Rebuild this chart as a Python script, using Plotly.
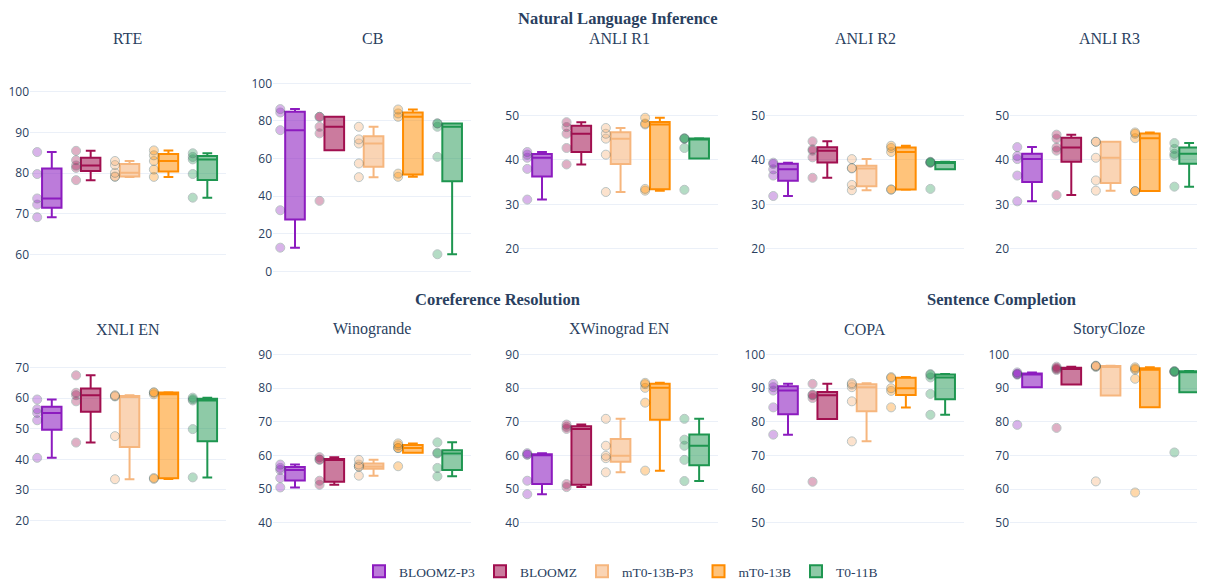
import plotly.graph_objects as go
from plotly.subplots import make_subplots

models = ["BLOOMZ-P3", "BLOOMZ", "mT0-13B-P3", "mT0-13B", "T0-11B"]

# one list of prompt scores per model, in the order of `models`
rte = [
    [69.2, 72.3, 73.8, 79.8, 85.2],
    [78.3, 81.3, 81.9, 83.2, 85.5],
    [79.1, 79.2, 80.1, 82.0, 83.0],
    [79.1, 80.9, 83.0, 84.4, 85.6],
    [74.0, 79.8, 83.4, 84.0, 84.9],
]
cb = [
    [12.6, 32.5, 75.1, 84.5, 86.3],
    [37.5, 73.4, 76.9, 82.2, 82.2],
    [50.1, 57.4, 68.0, 70.2, 76.9],
    [50.3, 52.0, 82.2, 84.0, 86.1],
    [9.1, 60.9, 76.9, 78.7, 78.7],
]
anli_r1 = [
    [31.1, 38.0, 40.5, 41.2, 41.8],
    [39.0, 42.7, 45.9, 47.4, 48.5],
    [32.8, 41.2, 44.8, 45.9, 47.2],
    [33.1, 33.5, 48.0, 48.2, 49.5],
    [33.3, 42.7, 44.8, 44.8, 44.9],
]
anli_r2 = [
    [31.9, 36.5, 37.9, 39.1, 39.4],
    [36.0, 40.6, 42.1, 42.4, 44.2],
    [33.2, 34.4, 38.1, 38.2, 40.2],
    [33.3, 33.4, 41.8, 42.7, 43.2],
    [33.5, 39.4, 39.4, 39.5, 39.6],
]
anli_r3 = [
    [30.7, 36.5, 40.2, 40.9, 42.9],
    [32.1, 42.1, 42.8, 44.8, 45.7],
    [33.1, 35.4, 40.5, 44.1, 44.1],
    [33.0, 33.0, 44.9, 45.9, 46.2],
    [34.0, 40.9, 41.4, 42.5, 43.8],
]
xnli_en = [
    [40.5, 52.8, 55.2, 56.4, 59.6],
    [45.5, 59.0, 61.0, 61.8, 67.5],
    [33.5, 47.6, 60.6, 60.7, 61.0],
    [33.6, 33.9, 61.3, 61.8, 62.0],
    [34.1, 49.9, 59.3, 59.7, 60.2],
]
winogrande = [
    [50.5, 53.3, 55.7, 56.3, 57.3],
    [51.3, 52.5, 58.7, 58.8, 59.5],
    [54.0, 56.7, 56.7, 57.3, 58.7],
    [56.8, 62.2, 62.2, 63.0, 63.6],
    [53.8, 56.3, 60.6, 60.8, 63.9],
]
xwinograd_en = [
    [48.5, 52.5, 60.2, 60.3, 60.7],
    [50.6, 51.5, 67.9, 68.5, 69.2],
    [55.0, 59.2, 59.9, 62.9, 70.9],
    [55.5, 75.7, 80.1, 81.2, 81.6],
    [52.4, 58.7, 62.9, 64.7, 70.9],
]
copa = [
    [76.2, 84.3, 89.3, 90.3, 91.3],
    [62.2, 87.1, 87.9, 88.1, 91.3],
    [74.2, 86.1, 90.3, 91.1, 91.5],
    [84.3, 89.2, 90.0, 93.0, 93.3],
    [82.1, 88.3, 93.2, 94.0, 94.2],
]
storycloze = [
    [79.1, 94.0, 94.2, 94.3, 94.7],
    [78.2, 95.4, 95.7, 96.0, 96.4],
    [62.3, 96.3, 96.5, 96.6, 96.7],
    [59.0, 92.8, 95.5, 95.8, 96.2],
    [70.9, 94.8, 94.9, 95.0, 95.1],
]

dataset_titles = ["RTE", "CB", "ANLI R1", "ANLI R2", "ANLI R3",
                  "XNLI EN", "Winogrande", "XWinograd EN", "COPA", "StoryCloze"]
dataset_values = [rte, cb, anli_r1, anli_r2, anli_r3,
                  xnli_en, winogrande, xwinograd_en, copa, storycloze]
group_titles = ["Natural Language Inference", "Coreference Resolution", "Sentence Completion"]

# ---- styling ----
line_colors = ["#8c1bbf", "#a10f4f", "#f6b67e", "#ff8c00", "#1e9650"]
fill_colors = ["rgba(140,27,191,0.58)", "rgba(161,15,79,0.55)", "rgba(246,170,105,0.5)",
               "rgba(255,140,0,0.52)", "rgba(30,150,80,0.5)"]
marker_colors = ["#8c1bbf", "#a10f4f", "#f6aa69", "#ff8c00", "#1e9650"]

y_ranges = [[51.7, 104.1], [-9.1, 104.4], [11.1, 59.1], [11.1, 59.1], [11.1, 59.1],
            [11.7, 78.9], [33.15, 94.17], [33.15, 94.17], [43.15, 104.17], [43.15, 104.17]]
y_dticks = [10, 20, 10, 10, 10, 10, 10, 10, 10, 10]

W, H = 1205, 579
col_x0 = [22, 265, 512, 758, 1002]
col_w = [196, 198, 198, 198, 198]
row_px = [(67.9, 283.9), (336.6, 544.4)]
title_y_px = [30.4, 325.4]
group_pos_px = [(610, 10.2), (489, 295.0), (993, 295.0)]

SERIF = "Liberation Serif"
TXT = "#2a3f5f"

fig = make_subplots(rows=2, cols=5)

for i, (title, vals) in enumerate(zip(dataset_titles, dataset_values)):
    r, c = divmod(i, 5)
    for m, (model, v) in enumerate(zip(models, vals)):
        fig.add_trace(go.Box(
            y=v, x=[model] * len(v), name=model, legendgroup=model,
            showlegend=(i == 0), boxpoints="all", jitter=0, pointpos=-1.5,
            width=0.5, whiskerwidth=0.5,
            line=dict(color=line_colors[m], width=2), fillcolor=fill_colors[m],
            marker=dict(color=marker_colors[m], size=9, opacity=0.33,
                        line=dict(color="DarkSlateGrey", width=1)),
        ), row=r + 1, col=c + 1)

    idx = "" if i == 0 else str(i + 1)
    x0 = col_x0[c] / W
    x1 = min(1.0, (col_x0[c] + col_w[c]) / W)
    top, bot = row_px[r]
    fig.layout["xaxis" + idx].update(
        domain=[x0, x1], type="category", categoryorder="array", categoryarray=models,
        range=[-0.56, 4.48], showticklabels=False, showgrid=False, zeroline=False,
        automargin=False)
    fig.layout["yaxis" + idx].update(
        domain=[1 - bot / H, 1 - top / H], range=y_ranges[i], dtick=y_dticks[i],
        tick0=0, gridcolor="#EBF0F8", zeroline=False, automargin=False,
        tickfont=dict(size=12))
    fig.add_annotation(text=title, xref="paper", yref="paper",
                       x=(col_x0[c] + col_w[c] / 2) / W, y=1 - title_y_px[r] / H,
                       xanchor="center", yanchor="middle", showarrow=False,
                       font=dict(family=SERIF, size=16, color=TXT))

for gt, (gx, gy) in zip(group_titles, group_pos_px):
    fig.add_annotation(text="<b>" + gt + "</b>", xref="paper", yref="paper",
                       x=gx / W, y=1 - gy / H, xanchor="center", yanchor="middle",
                       showarrow=False, font=dict(family=SERIF, size=16.5, color=TXT))

fig.update_layout(
    template="plotly_white",
    width=W, height=H,
    margin=dict(l=0, r=0, t=0, b=0),
    boxmode="overlay",
    legend=dict(orientation="h", x=613 / W, xanchor="center",
                y=1 - 570.8 / H, yanchor="middle", tracegroupgap=0,
                font=dict(family=SERIF, size=13.5, color=TXT)),
)

fig.write_html("out.html")
